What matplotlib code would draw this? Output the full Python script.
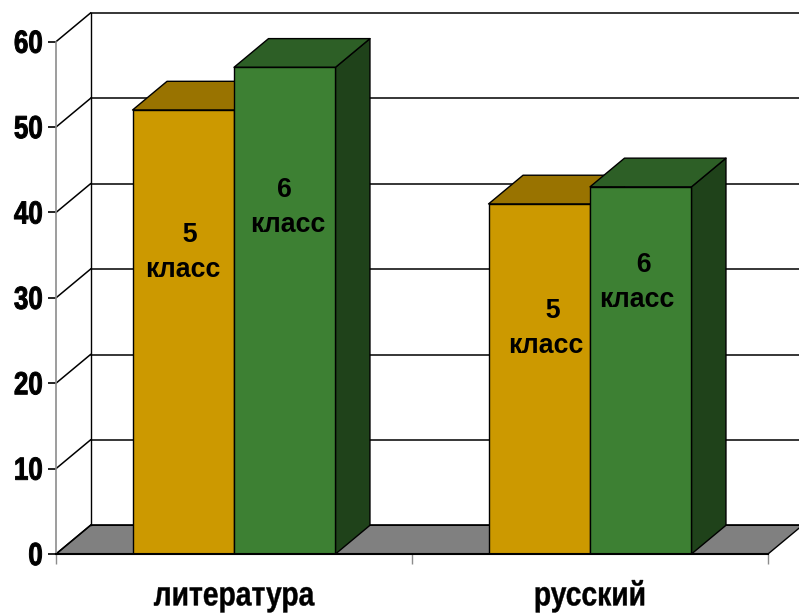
import matplotlib
matplotlib.use('Agg')
import matplotlib.pyplot as plt
from matplotlib.patches import Polygon
from matplotlib.patheffects import AbstractPathEffect
from matplotlib.transforms import Affine2D

categories = ['литература', 'русский']
class5 = [52, 41]
class6 = [57, 43]
yticks = [0, 10, 20, 30, 40, 50, 60]
bar_labels = ['  5\nкласс', '6 \nкласс', '  5\nкласс', '  6\nкласс']
label_x = [-0.144, 0.152, -0.123, 0.132]
label_y = [35.3, 40.6, 26.4, 31.8]

plt.rcParams['font.family'] = ['Liberation Sans', 'DejaVu Sans']


class Squeeze(AbstractPathEffect):
    # no narrow bold font here, so squeeze the glyphs sideways around the text anchor
    def __init__(self, sx, text, stroke=0.0):
        super().__init__()
        self.sx = sx
        self.text = text
        self.stroke = stroke

    def draw_path(self, renderer, gc, tpath, affine, rgbFace=None):
        cx = self.text.get_window_extent(renderer)
        ha = self.text.get_ha()
        x0 = cx.x1 if ha == 'right' else (cx.x0 + cx.x1) / 2
        t = affine + Affine2D().translate(-x0, 0).scale(self.sx, 1).translate(x0, 0)
        gc0 = renderer.new_gc()
        gc0.copy_properties(gc)
        gc0.set_linewidth(self.stroke)
        gc0.set_foreground('black')
        renderer.draw_path(gc0, tpath, t, rgbFace)
        gc0.restore()


W, H = 799, 613
fig = plt.figure(figsize=(W / 100, H / 100), dpi=100)
ax = fig.add_axes([56 / W, (H - 554) / H, (768 - 56) / W, (554 - 41.7) / H])
ax.set_xlim(0, 2)
ax.set_ylim(0, 60)
for s in ax.spines.values():
    s.set_visible(False)

# depth of the fake 3d box, data units
dx = 34.5 / 356
dy = 28.7 / 8.538
bw = 0.285


def poly(pts, color, z, lw=1.0):
    ax.add_patch(Polygon(pts, closed=True, facecolor=color, edgecolor='black',
                         linewidth=lw, zorder=z, clip_on=False, joinstyle='round'))


# floor
poly([(0, 0), (2, 0), (2 + dx, dy), (dx, dy)], '#808080', 1)

# walls
for v in yticks:
    ax.plot([0, dx], [v, v + dy], color='black', lw=1.1, zorder=2, clip_on=False)
    ax.plot([dx, 2 + dx], [v + dy, v + dy], color='black', lw=1.1, zorder=2, clip_on=False)
ax.plot([dx, dx], [dy, 60 + dy], color='black', lw=1.0, zorder=2, clip_on=False)
ax.plot([0, 0], [0, 60], color='#8c8c8c', lw=1.2, zorder=2, clip_on=False)


# bars
def bar3d(x, v, front, top, side):
    poly([(x + bw, 0), (x + bw + dx, dy), (x + bw + dx, v + dy), (x + bw, v)], side, 3)
    poly([(x, v), (x + bw, v), (x + bw + dx, v + dy), (x + dx, v + dy)], top, 3)
    ax.bar(x, v, bw, align='edge', color=front, edgecolor='black', linewidth=1.0, zorder=4)


for i in range(len(categories)):
    bar3d(i + 0.5 - bw, class5[i], '#CC9900', '#997300', '#7A5C00')
    bar3d(i + 0.5, class6[i], '#3D8033', '#2D5F26', '#1F421A')

# front base line
ax.plot([0, 2], [0, 0], color='black', lw=1.5, zorder=5, clip_on=False)

centers = [0.5, 0.5, 1.5, 1.5]
for c, ox, ly, t in zip(centers, label_x, label_y, bar_labels):
    ax.text(c + ox, ly, t, ha='center', va='center', fontsize=19.3, fontweight='bold',
            linespacing=1.45, zorder=6)

ax.set_yticks(yticks)
ax.set_xticks([0, 1, 2])
ax.set_xticklabels([])
ax.set_yticklabels([])
ax.tick_params(axis='y', length=6, width=1.2, color='black')
ax.tick_params(axis='x', length=7, width=1.0, color='#8c8c8c')

# tall narrow labels, as in the picture
for v in yticks:
    a = ax.annotate(str(v), (0, v), xytext=(-9.5, -2.2), textcoords='offset points', ha='right',
                    va='center', fontsize=23, fontweight='bold', annotation_clip=False)
    a.set_path_effects([Squeeze(0.81, a, 0.7)])
for i, c in enumerate(categories):
    a = ax.annotate(c, (i + 0.5, 0), xytext=(0, -37), textcoords='offset points', ha='center',
                    va='baseline', fontsize=24.5, fontweight='bold', annotation_clip=False)
    a.set_path_effects([Squeeze(0.83, a, 0.3)])

fig.savefig('out.png', dpi=100)
